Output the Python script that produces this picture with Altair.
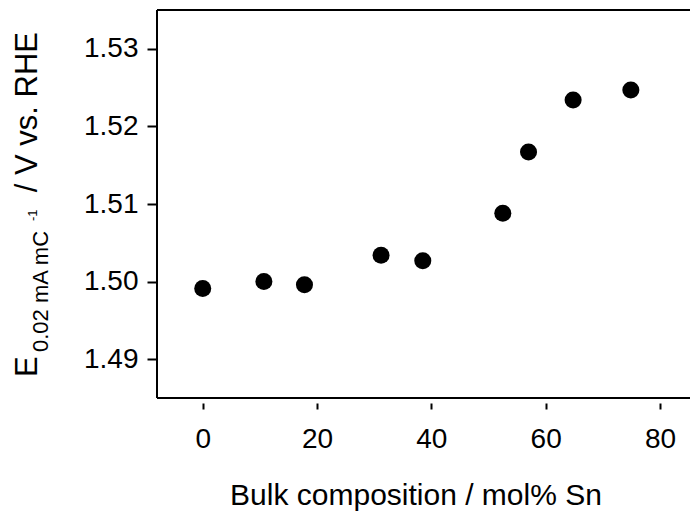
import altair as alt
import pandas as pd

# Data
sn_mol_pct = [0.0, 10.7, 17.8, 31.2, 38.5, 52.5, 57.0, 64.8, 74.9]
e_vs_rhe = [1.4991, 1.5000, 1.4996, 1.5034, 1.5027, 1.5088, 1.5167, 1.5234, 1.5247]
x_ticks = [0, 20, 40, 60, 80]
y_ticks = [1.49, 1.50, 1.51, 1.52, 1.53]

df = pd.DataFrame({"x": sn_mol_pct, "y": e_vs_rhe})

W, H = 533, 388
FONT = "Liberation Sans"

xscale = alt.Scale(domain=[-8, 85.25], nice=False, zero=False)
yscale = alt.Scale(domain=[1.485, 1.535], nice=False, zero=False)

points = alt.Chart(df).mark_circle(size=290, color="black", opacity=1).encode(
    x=alt.X("x:Q", scale=xscale,
            axis=alt.Axis(values=x_ticks, title=None, domain=False, grid=False,
                          tickSize=6, tickWidth=2, tickColor="black", offset=5,
                          labelFontSize=28, labelFont=FONT, labelColor="black",
                          labelPadding=16, format="d")),
    y=alt.Y("y:Q", scale=yscale,
            axis=alt.Axis(values=y_ticks, title=None, domain=False, grid=False,
                          tickSize=10, tickWidth=2, tickColor="black",
                          labelFontSize=28, labelFont=FONT, labelColor="black",
                          labelPadding=9, format=".2f")),
)

frame_df = pd.DataFrame({"k": [0]})
left = alt.Chart(frame_df).mark_rule(color="black", strokeWidth=2).encode(
    x=alt.value(0), y=alt.value(0), y2=alt.value(H))
top = alt.Chart(frame_df).mark_rule(color="black", strokeWidth=2).encode(
    x=alt.value(0), x2=alt.value(W), y=alt.value(0))
bottom = alt.Chart(frame_df).mark_rule(color="black", strokeWidth=2).encode(
    x=alt.value(0), x2=alt.value(W), y=alt.value(H))

def txt(text, x, y, size, align="left", angle=270, baseline="alphabetic"):
    return alt.Chart(pd.DataFrame({"t": [text]})).mark_text(
        font=FONT, fontSize=size, color="black", align=align, angle=angle,
        baseline=baseline).encode(text="t:N", x=alt.value(x), y=alt.value(y))

ox, oy = 157, 10  # plot origin in page pixels
ytitle = (
    txt("E", 37 - ox, 377 - oy, 31)
    + txt("0.02 mA mC", 47.5 - ox, 352 - oy, 22)
    + txt("-1", 37 - ox, 221 - oy, 13)
    + txt("/ V vs. RHE", 37 - ox, 32 - oy, 31, align="right")
)
xtitle = txt("Bulk composition / mol% Sn", 416 - ox, 505 - oy, 30,
             align="center", angle=0)

chart = alt.layer(points, left, top, bottom, ytitle, xtitle).properties(
    width=W, height=H,
    autosize=alt.AutoSizeParams(type="none"),
    padding={"left": ox - 8, "top": oy - 8, "right": 0, "bottom": 508 - (oy - 8) - H},
).configure_view(stroke=None).configure(background="white")

chart.save("out.html", embed_options={"renderer": "svg", "actions": False})
